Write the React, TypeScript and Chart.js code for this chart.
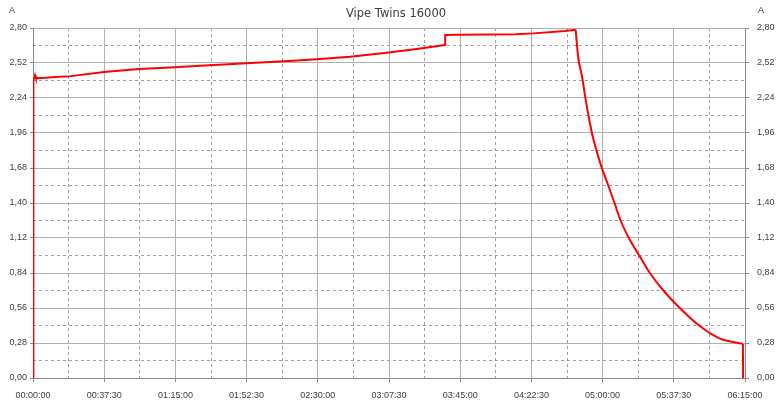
import React, { useEffect, useRef } from "react";
import { Chart, registerables } from "chart.js";

Chart.register(...registerables);

// Time in minutes since start
const timeMin = [
  0, 0.2, 0.8, 1.1, 1.5, 5, 11.6, 20, 37.4, 55.8, 74.8, 88, 112.5, 137.1, 149.4,
  167, 186.3, 202.1, 217, 217.1, 224.4, 254.4, 263.5, 280.2, 285.8, 287.2, 289,
  290.7, 292.5, 294.6, 296.9, 299.5, 303, 306.5, 309.2, 314.4, 319.7, 325, 332,
  340.8, 350.5, 361.8, 368.7, 373.9, 374.0,
];
// Current in A
const amps = [
  0, 2.39, 2.4, 2.42, 2.4, 2.4, 2.408, 2.415, 2.448, 2.472, 2.486, 2.498, 2.518,
  2.538, 2.55, 2.57, 2.602, 2.632, 2.664, 2.744, 2.746, 2.75, 2.757, 2.776, 2.786,
  2.558, 2.424, 2.264, 2.104, 1.944, 1.815, 1.685, 1.54, 1.39, 1.27, 1.104,
  0.97, 0.838, 0.7, 0.558, 0.424, 0.315, 0.288, 0.272, 0,
];
// index of the peak where the discharge-like decay begins
const peakIndex = 24;

const xMajorTicks = [0, 37.5, 75, 112.5, 150, 187.5, 225, 262.5, 300, 337.5, 375];
const xMinorTicks = [18.75, 56.25, 93.75, 131.25, 168.75, 206.25, 243.75, 281.25, 318.75, 356.25];
const yMajorTicks = [0, 0.28, 0.56, 0.84, 1.12, 1.4, 1.68, 1.96, 2.24, 2.52, 2.8];
const yMinorTicks = [0.14, 0.42, 0.7, 0.98, 1.26, 1.54, 1.82, 2.1, 2.38, 2.66];

const title = "Vipe Twins 16000";
const unit = "A";

const TICK_FONT = { family: "Liberation Sans", size: 9 };
const TEXT_COLOR = "#404040";
const MAJOR_GRID = "#b0b0b0";
const MINOR_GRID = "#a0a0a0";
const AXIS_COLOR = "#8a8a8a";
const LINE_COLOR = "#ff0000";

function fmtTime(m: number): string {
  const s = Math.round(m * 60);
  const hh = Math.floor(s / 3600);
  const mm = Math.floor((s % 3600) / 60);
  const ss = s % 60;
  const p = (n: number) => String(n).padStart(2, "0");
  return `${p(hh)}:${p(mm)}:${p(ss)}`;
}
function fmtAmp(v: number): string {
  return v.toFixed(2).replace(".", ",");
}
const setTicks = (arr: number[]) => (scale: any) => {
  scale.ticks = arr.map((v) => ({ value: v }));
};

const textPlugin = {
  id: "textPlugin",
  afterDraw(chart: any) {
    const ctx = chart.ctx;
    ctx.save();
    ctx.fillStyle = TEXT_COLOR;
    ctx.textBaseline = "middle";
    ctx.font = "11.5px 'DejaVu Sans'";
    ctx.textAlign = "center";
    ctx.fillText(title, 396, 14);
    ctx.font = "9px 'Liberation Sans'";
    ctx.textAlign = "left";
    ctx.fillText(unit, 9, 11);
    ctx.fillText(unit, 758, 11);
    ctx.restore();
  },
};

function pts(from: number, to: number) {
  const out: { x: number; y: number }[] = [];
  for (let i = from; i <= to; i++) out.push({ x: timeMin[i], y: amps[i] });
  return out;
}

export default function App() {
  const ref = useRef<HTMLCanvasElement | null>(null);
  useEffect(() => {
    document.body.style.margin = "0";
    const canvas = ref.current;
    if (!canvas) return;
    const last = timeMin.length - 1;
    const base = {
      borderColor: LINE_COLOR,
      borderWidth: 2,
      pointRadius: 0,
      fill: false,
      xAxisID: "x",
      yAxisID: "y",
    };
    const chart = new Chart(canvas, {
      type: "line",
      data: {
        datasets: [
          { ...base, data: pts(0, peakIndex), tension: 0 },
          { ...base, data: pts(peakIndex, last - 1), cubicInterpolationMode: "monotone" },
          { ...base, data: pts(last - 1, last), tension: 0 },
        ],
      },
      plugins: [textPlugin],
      options: {
        animation: false,
        responsive: false,
        devicePixelRatio: 1,
        layout: { padding: { top: 28, left: 0, right: 0, bottom: 0 } },
        plugins: { legend: { display: false }, tooltip: { enabled: false }, title: { display: false } },
        scales: {
          x: {
            type: "linear",
            position: "bottom",
            min: 0,
            max: 375,
            afterBuildTicks: setTicks(xMajorTicks),
            afterFit: (s: any) => { s.height = 32; },
            grid: { color: MAJOR_GRID, lineWidth: 1, drawTicks: true, tickLength: 4, tickColor: AXIS_COLOR },
            border: { display: true, color: AXIS_COLOR, width: 1 },
            ticks: {
              autoSkip: false,
              maxRotation: 0,
              padding: 8,
              color: TEXT_COLOR,
              font: TICK_FONT,
              callback: (v: any) => fmtTime(Number(v)),
            },
          },
          x2: {
            type: "linear",
            position: "bottom",
            min: 0,
            max: 375,
            afterBuildTicks: setTicks(xMinorTicks),
            afterFit: (s: any) => { s.height = 0; },
            grid: { color: MINOR_GRID, lineWidth: 1, drawTicks: false },
            border: { display: false, dash: [3, 3] },
            ticks: { display: false },
          },
          y: {
            type: "linear",
            position: "left",
            min: 0,
            max: 2.8,
            afterBuildTicks: setTicks(yMajorTicks),
            afterFit: (s: any) => { s.width = 33; },
            grid: { color: MAJOR_GRID, lineWidth: 1, drawTicks: true, tickLength: 3, tickColor: AXIS_COLOR },
            border: { display: true, color: AXIS_COLOR, width: 1 },
            ticks: {
              autoSkip: false,
              padding: 3,
              color: TEXT_COLOR,
              font: TICK_FONT,
              callback: (v: any) => fmtAmp(Number(v)),
            },
          },
          y2: {
            type: "linear",
            position: "left",
            min: 0,
            max: 2.8,
            afterBuildTicks: setTicks(yMinorTicks),
            afterFit: (s: any) => { s.width = 0; },
            grid: { color: MINOR_GRID, lineWidth: 1, drawTicks: false },
            border: { display: false, dash: [3, 3] },
            ticks: { display: false },
          },
          yR: {
            type: "linear",
            position: "right",
            min: 0,
            max: 2.8,
            afterBuildTicks: setTicks(yMajorTicks),
            afterFit: (s: any) => { s.width = 35; },
            grid: { drawOnChartArea: false, drawTicks: true, tickLength: 4, color: AXIS_COLOR },
            border: { display: true, color: AXIS_COLOR, width: 1 },
            ticks: {
              autoSkip: false,
              padding: 8,
              color: TEXT_COLOR,
              font: TICK_FONT,
              callback: (v: any) => fmtAmp(Number(v)),
            },
          },
        },
      },
    } as any);
    return () => chart.destroy();
  }, []);
  return (
    <div style={{ width: 780, height: 410, background: "#ffffff" }}>
      <canvas ref={ref} width={780} height={410} style={{ display: "block", width: 780, height: 410 }} />
    </div>
  );
}
